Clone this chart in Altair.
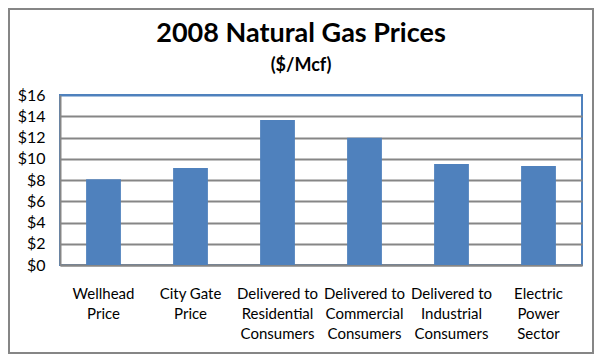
import altair as alt
import pandas as pd

categories = [
    "Wellhead|Price",
    "City Gate|Price",
    "Delivered to|Residential|Consumers",
    "Delivered to|Commercial|Consumers",
    "Delivered to|Industrial|Consumers",
    "Electric|Power|Sector",
]
prices = [8.07, 9.13, 13.65, 11.98, 9.51, 9.32]
y_ticks = [0, 2, 4, 6, 8, 10, 12, 14, 16]

df = pd.DataFrame({"category": categories, "price": prices})
frame_df = pd.DataFrame({"a": [0]})

FONT = "Lato"
BLUE = "#4F81BD"
GREY = "#868686"

bars = alt.Chart(df).mark_bar(color=BLUE).encode(
    x=alt.X(
        "category:N",
        sort=None,
        scale=alt.Scale(paddingInner=0.6, paddingOuter=0.3),
        axis=alt.Axis(
            title=None,
            labelAngle=0,
            labelExpr="split(datum.label, '|')",
            labelFontSize=15,
            labelLineHeight=20,
            labelPadding=21,
            labelBaseline="top",
            labelColor="black",
            labelFont=FONT,
            ticks=False,
            domainColor=GREY,
            domainWidth=2,
        ),
    ),
    y=alt.Y(
        "price:Q",
        scale=alt.Scale(domain=[0, 16], nice=False),
        axis=alt.Axis(
            title=None,
            values=y_ticks,
            labelExpr="'$' + datum.value",
            labelFontSize=16,
            labelFont=FONT,
            labelColor="black",
            labelPadding=15,
            ticks=False,
            grid=True,
            gridColor=alt.condition("datum.value >= 16", alt.value(BLUE), alt.value(GREY)),
            gridWidth=2,
            domainColor=GREY,
            domainWidth=2,
        ),
    ),
)

frame = alt.Chart(frame_df).mark_rect(fillOpacity=0, stroke=GREY, strokeWidth=2).encode(
    x=alt.value(-51), x2=alt.value(533), y=alt.value(-86), y2=alt.value(258)
)

chart = (
    alt.layer(bars, frame)
    .properties(
        width=522,
        height=170,
        autosize=alt.AutoSizeParams(type="none"),
        padding={"left": 52, "top": 87, "right": 12, "bottom": 89},
        title=alt.TitleParams(
            text="2008 Natural Gas Prices",
            subtitle="($/Mcf)",
            font=FONT,
            subtitleFont=FONT,
            fontSize=27,
            subtitleFontSize=18,
            fontWeight="bold",
            subtitleFontWeight="bold",
            color="black",
            subtitleColor="black",
            anchor="middle",
            frame="group",
            dx=-20,
            dy=88,
            offset=20,
            subtitlePadding=9,
        ),
    )
    .configure_view(stroke=BLUE, strokeWidth=2)
)

chart.save("out.html", embed_options={"renderer": "svg", "actions": False})
